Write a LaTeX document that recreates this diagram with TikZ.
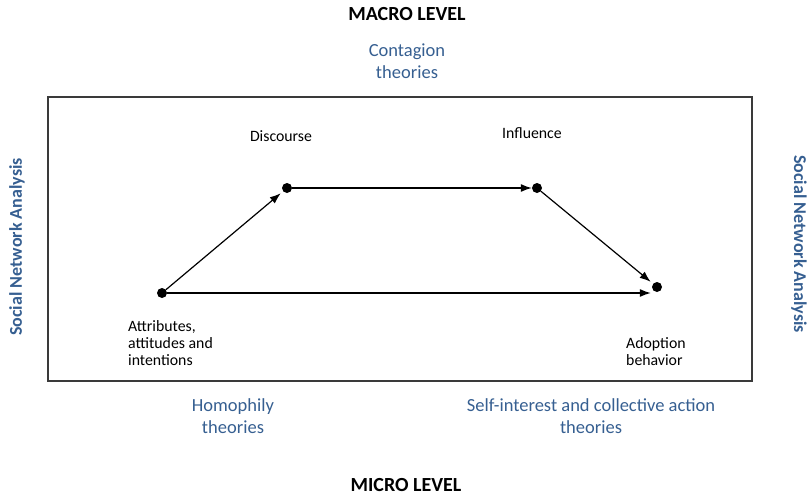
\documentclass[tikz,border=0pt]{standalone}
\usepackage{fontspec}
\setmainfont{Carlito}
\usepackage{xcolor}
\usetikzlibrary{arrows.meta}
\definecolor{theoryblue}{HTML}{365F91}
\definecolor{boxgray}{HTML}{3A3A3A}

\begin{document}
\begin{tikzpicture}[x=1pt,y=-1pt]
				\tikzstyle{every node}+=[inner sep=0pt]
				\tikzstyle{dot}=[circle,fill=black,minimum size=10pt]
				\tikzstyle{arr}=[black,line width=1.2pt,-{Latex[length=11pt,width=8pt]}]
				\tikzstyle{level}=[font=\fontsize{20}{22}\selectfont\bfseries]
				\tikzstyle{theory}=[theoryblue,align=center,font=\fontsize{18.5}{22.5}\selectfont]
				\tikzstyle{sna}=[theoryblue,font=\fontsize{18}{20}\selectfont\bfseries]
				\tikzstyle{label}=[align=left,font=\fontsize{15.8}{17}\selectfont]
				\useasboundingbox (0,0) rectangle (808,496);
				% frame
				\draw [boxgray,line width=1.4pt] (48,97) rectangle (752,381);
				% levels and theories
				\node [level] (macro) at (407,14) {MACRO LEVEL};
				\node [level] (micro) at (406,485) {MICRO LEVEL};
				\node [theory] (contagion) at (407,61) {Contagion\\theories};
				\node [theory] (homophily) at (233,416) {Homophily\\theories};
				\node [theory] (selfint) at (591,416) {Self-interest and collective action\\theories};
				\node [sna,rotate=90] (snaleft) at (17,247) {Social Network Analysis};
				\node [sna,rotate=-90] (snaright) at (799,244) {Social Network Analysis};
				% points
				\node [dot] (att) at (162,293) {};
				\node [dot] (disc) at (287,188) {};
				\node [dot] (infl) at (537,188) {};
				\node [dot] (adopt) at (657,287) {};
				\node [label] at (281,136) {Discourse};
				\node [label] at (532,133) {Influence};
				\node [label,anchor=west] at (128,343) {Attributes,\\attitudes and\\intentions};
				\node [label,anchor=west] at (626,352) {Adoption\\behavior};
				% arrows
				\draw [arr,shorten >=3pt] (att) -- (disc);
				\draw [arr] (disc) -- (infl);
				\draw [arr,shorten >=3pt] (infl) -- (adopt);
				\draw [arr,shorten >=1pt] (att) -- (att -| adopt.west);
				\end{tikzpicture}
\end{document}
